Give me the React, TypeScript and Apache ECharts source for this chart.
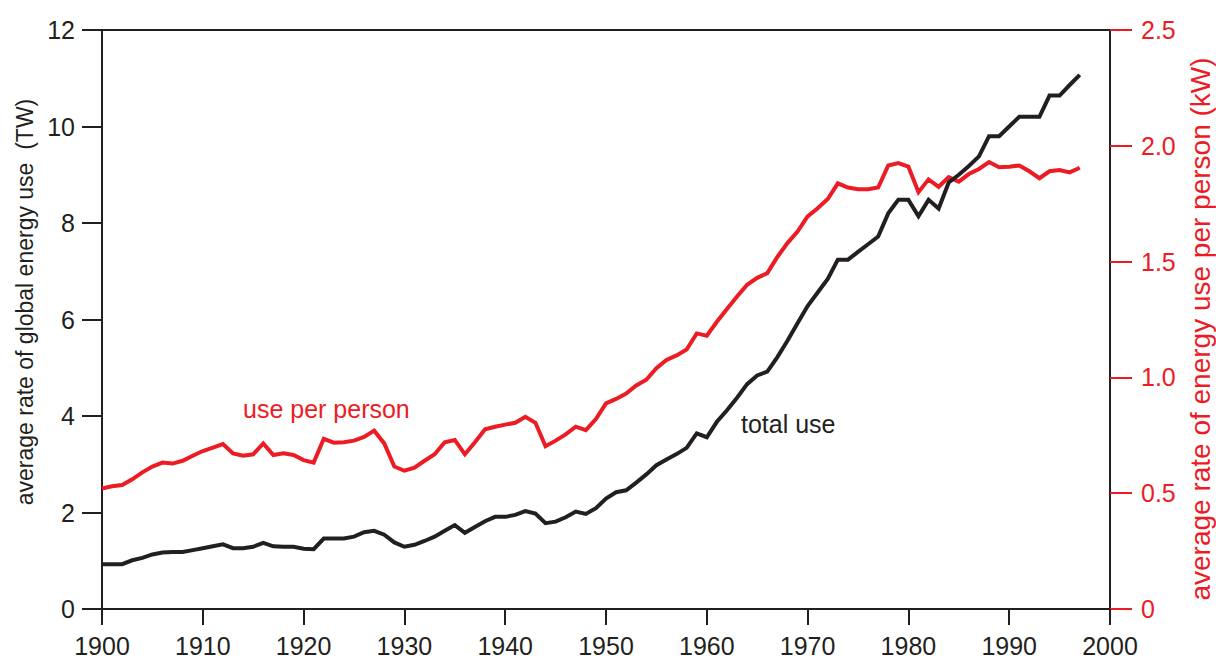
import React, { useEffect, useRef } from "react";
import * as echarts from "echarts";

const startYear = 1900;

// total global energy use, TW (1900..1997)
const totalUse = [
  0.93, 0.93, 0.93, 1.01, 1.06, 1.13, 1.17, 1.18, 1.18, 1.22,
  1.26, 1.30, 1.34, 1.26, 1.26, 1.29, 1.37, 1.30, 1.29, 1.29,
  1.25, 1.24, 1.46, 1.46, 1.46, 1.50, 1.59, 1.62, 1.54, 1.38,
  1.29, 1.33, 1.41, 1.50, 1.62, 1.74, 1.58, 1.70, 1.82, 1.91,
  1.91, 1.95, 2.03, 1.98, 1.78, 1.81, 1.90, 2.02, 1.97, 2.09,
  2.29, 2.42, 2.46, 2.62, 2.79, 2.98, 3.10, 3.21, 3.34, 3.64,
  3.56, 3.88, 4.12, 4.38, 4.66, 4.84, 4.92, 5.22, 5.56, 5.92,
  6.28, 6.56, 6.84, 7.24, 7.24, 7.40, 7.56, 7.72, 8.20, 8.48,
  8.48, 8.14, 8.48, 8.30, 8.84, 9.00, 9.18, 9.38, 9.80, 9.80,
  10.00, 10.20, 10.20, 10.20, 10.64, 10.64, 10.86, 11.07,
];

// energy use per person, kW (1900..1997)
const perPerson = [
  0.52, 0.53, 0.535, 0.56, 0.59, 0.615, 0.632, 0.628, 0.64, 0.662,
  0.682, 0.697, 0.712, 0.672, 0.662, 0.668, 0.715, 0.665, 0.672, 0.665,
  0.643, 0.632, 0.735, 0.718, 0.72, 0.727, 0.743, 0.77, 0.715, 0.615,
  0.597, 0.61, 0.64, 0.668, 0.72, 0.73, 0.668, 0.72, 0.776, 0.787,
  0.796, 0.804, 0.83, 0.804, 0.703, 0.727, 0.754, 0.787, 0.772, 0.82,
  0.888, 0.907, 0.93, 0.965, 0.99, 1.04, 1.075, 1.095, 1.12, 1.19,
  1.18, 1.24, 1.295, 1.349, 1.40, 1.43, 1.45, 1.52, 1.58, 1.63,
  1.695, 1.73, 1.77, 1.838, 1.82, 1.812, 1.812, 1.82, 1.915, 1.925,
  1.91, 1.80, 1.855, 1.823, 1.865, 1.845, 1.878, 1.90, 1.93, 1.907,
  1.91, 1.915, 1.89, 1.86, 1.89, 1.895, 1.885, 1.905,
];

const leftAxisName = "average rate of global energy use  (TW)";
const rightAxisName = "average rate of energy use per person (kW)";
const perPersonLabel = "use per person";
const totalLabel = "total use";

const BLACK = "#231f20";
const RED = "#ed1c24";
const FONT = "'Liberation Sans', Arial, Helvetica, sans-serif";

export default function App() {
  const ref = useRef<HTMLDivElement>(null);

  useEffect(() => {
    if (!ref.current) return;
    const chart = echarts.init(ref.current, undefined, { renderer: "svg" });
    const totalData = totalUse.map((v, i) => [startYear + i, v]);
    const personData = perPerson.map((v, i) => [startYear + i, v]);

    chart.setOption({
      animation: false,
      backgroundColor: "#ffffff",
      textStyle: { fontFamily: FONT },
      grid: {
        left: 102,
        right: 106,
        top: 30,
        bottom: 54,
        show: true,
        borderColor: BLACK,
        borderWidth: 2,
        backgroundColor: "transparent",
      },
      xAxis: {
        type: "value",
        min: 1900,
        max: 2000,
        interval: 10,
        splitLine: { show: false },
        axisLine: { show: true, onZero: false, lineStyle: { color: BLACK, width: 2 } },
        axisTick: { show: true, length: 16, lineStyle: { color: BLACK, width: 2 } },
        axisLabel: {
          color: BLACK,
          fontSize: 25,
          margin: 24,
          fontFamily: FONT,
          formatter: (v: number) => String(v),
        },
      },
      yAxis: [
        {
          type: "value",
          min: 0,
          max: 12,
          interval: 2,
          position: "left",
          splitLine: { show: false },
          axisLine: { show: true, onZero: false, lineStyle: { color: BLACK, width: 2 } },
          axisTick: { show: true, length: 20, lineStyle: { color: BLACK, width: 2 } },
          axisLabel: { color: BLACK, fontSize: 25, margin: 27, fontFamily: FONT },
        },
        {
          type: "value",
          min: 0,
          max: 2.5,
          interval: 0.5,
          position: "right",
          splitLine: { show: false },
          axisLine: { show: true, onZero: false, lineStyle: { color: BLACK, width: 2 } },
          axisTick: { show: true, length: 22, lineStyle: { color: RED, width: 2 } },
          axisLabel: {
            color: RED,
            fontSize: 25,
            margin: 31,
            fontFamily: FONT,
            formatter: (v: number) => (v === 0 ? "0" : v.toFixed(1)),
          },
        },
      ],
      series: [
        {
          type: "line",
          name: "use per person",
          yAxisIndex: 1,
          data: personData,
          showSymbol: false,
          lineStyle: { color: RED, width: 4, join: "miter" },
          itemStyle: { color: RED },
          z: 2,
        },
        {
          type: "line",
          name: "total use",
          yAxisIndex: 0,
          data: totalData,
          showSymbol: false,
          lineStyle: { color: BLACK, width: 4, join: "miter" },
          itemStyle: { color: BLACK },
          z: 3,
        },
      ],
      graphic: [
        {
          type: "text",
          x: 25,
          y: 302,
          rotation: Math.PI / 2,
          style: {
            text: leftAxisName,
            fill: BLACK,
            font: `23px ${FONT}`,
            align: "center",
            verticalAlign: "middle",
          },
        },
        {
          type: "text",
          x: 1200,
          y: 329,
          rotation: Math.PI / 2,
          style: {
            text: rightAxisName,
            fill: RED,
            font: `28px ${FONT}`,
            align: "center",
            verticalAlign: "middle",
          },
        },
        {
          type: "text",
          x: 243,
          y: 409,
          style: {
            text: perPersonLabel,
            fill: RED,
            font: `25px ${FONT}`,
            align: "left",
            verticalAlign: "middle",
          },
        },
        {
          type: "text",
          x: 741,
          y: 424,
          style: {
            text: totalLabel,
            fill: BLACK,
            font: `25px ${FONT}`,
            align: "left",
            verticalAlign: "middle",
          },
        },
      ],
    });

    return () => chart.dispose();
  }, []);

  return (
    <div
      ref={ref}
      style={{ position: "absolute", left: 0, top: 0, width: 1216, height: 663 }}
    />
  );
}
